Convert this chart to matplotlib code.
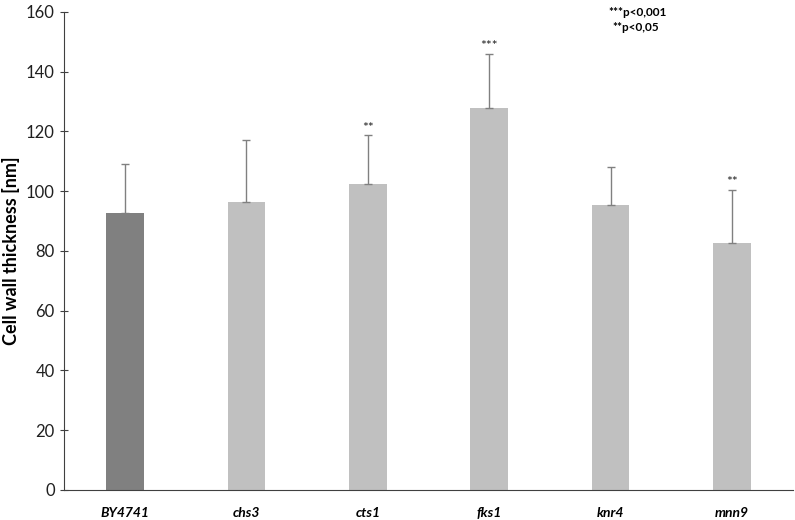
import matplotlib
matplotlib.use("Agg")
import matplotlib.pyplot as plt

strains = ["BY4741", "chs3", "cts1", "fks1", "knr4", "mnn9"]
thickness = [92.7, 96.5, 102.5, 128.0, 95.5, 82.5]
sd = [16.4, 20.7, 16.3, 18.0, 12.7, 18.0]
signif = ["", "", "**", "***", "", "**"]
bar_colors = ["#808080", "#c0c0c0", "#c0c0c0", "#c0c0c0", "#c0c0c0", "#c0c0c0"]

plt.rcParams['font.family'] = ['Lato', 'DejaVu Sans']

fig = plt.figure(figsize=(7.95, 5.2), dpi=100)
ax = fig.add_axes([0.081, 0.058, 0.916, 0.919])

x = range(len(strains))
ax.bar(x, thickness, width=0.31, color=bar_colors,
       yerr=[[0] * len(sd), sd], error_kw=dict(ecolor="#808080", elinewidth=1, capsize=3, capthick=1))

# significance stars over the error bars
for i, s in enumerate(signif):
    if s:
        ax.text(i, thickness[i] + sd[i] + 0.5, s, ha="center", va="bottom", fontsize=10, color="#222222")

ax.set_xlim(-0.5, 5.5)
ax.set_ylim(0, 160)
ax.set_yticks(range(0, 161, 20))
ax.set_xticks(list(x))
ax.set_xticklabels(strains, fontsize=10, fontweight="bold", fontstyle="italic")
ax.tick_params(axis="y", direction="inout", length=6, labelsize=12, colors="#404040", labelcolor="#202020", pad=4)
ax.tick_params(axis="x", length=0, pad=12)
for sp in ["top", "right"]:
    ax.spines[sp].set_visible(False)
for sp in ["left", "bottom"]:
    ax.spines[sp].set_color("#404040")
ax.set_ylabel("Cell wall thickness [nm]", fontsize=13, fontweight="bold", labelpad=4)

fig.text(0.765, 0.975, "***p<0,001", fontsize=8.5, fontweight="bold", va="center")
fig.text(0.77, 0.947, "**p<0,05", fontsize=8.5, fontweight="bold", va="center")

fig.savefig("out.png", dpi=100)
